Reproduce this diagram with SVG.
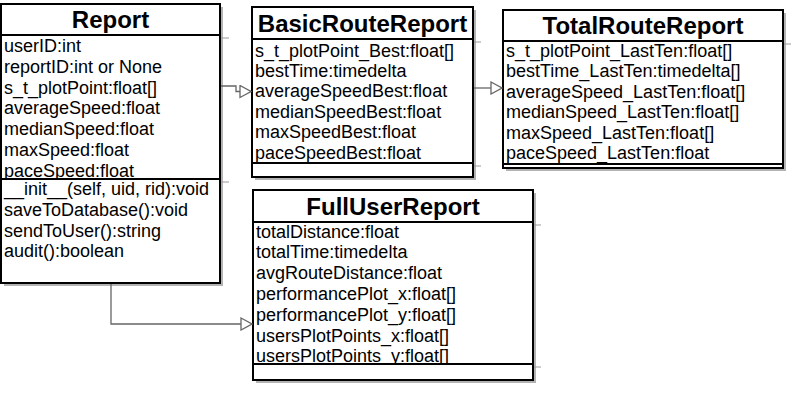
<svg xmlns="http://www.w3.org/2000/svg" width="805" height="400" viewBox="0 0 805 400">
  <style>
    .box { fill: #ffffff; stroke: #000000; stroke-width: 2; }
    .shadow { fill: #b3b3b3; stroke: none; }
    .div { stroke: #000000; stroke-width: 2; }
    .tick { stroke: #999999; stroke-width: 1; }
    .title { font-family: "Liberation Sans", Arial, sans-serif; font-size: 24px; font-weight: bold; fill: #000000; text-anchor: middle; }
    .attr { font-family: "Liberation Sans", Arial, sans-serif; font-size: 18px; fill: #000000; }
    .edge { fill: none; stroke: #666666; stroke-width: 1.3; }
  </style>
  <defs>
    <marker id="tri" viewBox="0 0 13 14" refX="12" refY="7" markerWidth="13" markerHeight="14" markerUnits="userSpaceOnUse" orient="auto">
      <path d="M1,1 L12,7 L1,13 Z" fill="#ffffff" stroke="#666666" stroke-width="1.3"/>
    </marker>
    <clipPath id="cR1"><rect x="1" y="36" width="219" height="142"/></clipPath>
    <clipPath id="cR2"><rect x="1" y="180" width="219" height="102"/></clipPath>
    <clipPath id="cB1"><rect x="252" y="40" width="221" height="122"/></clipPath>
    <clipPath id="cT1"><rect x="503" y="42" width="280" height="121"/></clipPath>
    <clipPath id="cF1"><rect x="253" y="223" width="280" height="140"/></clipPath>
  </defs>

  <g id="Report">
    <rect class="shadow" x="4" y="7" width="219" height="279"/>
    <line class="tick" x1="221" y1="38" x2="229" y2="38"/>
    <line class="tick" x1="221" y1="182" x2="229" y2="182"/>
    <rect class="box" x="1" y="4" width="219" height="279"/>
    <line class="div" x1="1" y1="35" x2="220" y2="35"/>
    <line class="div" x1="1" y1="179" x2="220" y2="179"/>
    <text class="title" x="110.5" y="28">Report</text>
    <g clip-path="url(#cR1)">
      <text class="attr" x="4" y="52">userID:int</text>
      <text class="attr" x="4" y="72.8">reportID:int or None</text>
      <text class="attr" x="4" y="93.6">s_t_plotPoint:float[]</text>
      <text class="attr" x="4" y="114.4">averageSpeed:float</text>
      <text class="attr" x="4" y="135.2">medianSpeed:float</text>
      <text class="attr" x="4" y="156">maxSpeed:float</text>
      <text class="attr" x="4" y="176.8">paceSpeed:float</text>
    </g>
    <g clip-path="url(#cR2)">
      <text class="attr" x="4" y="195">__init__(self, uid, rid):void</text>
      <text class="attr" x="4" y="215.8">saveToDatabase():void</text>
      <text class="attr" x="4" y="236.6">sendToUser():string</text>
      <text class="attr" x="4" y="257.4">audit():boolean</text>
    </g>
  </g>

  <g id="BasicRouteReport">
    <rect class="shadow" x="255" y="10" width="221" height="170"/>
    <line class="tick" x1="474" y1="42" x2="481" y2="42"/>
    <line class="tick" x1="474" y1="166" x2="481" y2="166"/>
    <rect class="box" x="252" y="7" width="221" height="170"/>
    <line class="div" x1="252" y1="39" x2="473" y2="39"/>
    <line class="div" x1="252" y1="163" x2="473" y2="163"/>
    <text class="title" x="362.5" y="31.6">BasicRouteReport</text>
    <g clip-path="url(#cB1)">
      <text class="attr" x="255" y="56.5">s_t_plotPoint_Best:float[]</text>
      <text class="attr" x="255" y="76.9">bestTime:timedelta</text>
      <text class="attr" x="255" y="97.3">averageSpeedBest:float</text>
      <text class="attr" x="255" y="117.7">medianSpeedBest:float</text>
      <text class="attr" x="255" y="138.1">maxSpeedBest:float</text>
      <text class="attr" x="255" y="158.5">paceSpeedBest:float</text>
    </g>
  </g>

  <g id="TotalRouteReport">
    <rect class="shadow" x="506" y="13" width="280" height="158"/>
    <line class="tick" x1="784" y1="44" x2="791" y2="44"/>
    <rect class="box" x="503" y="10" width="280" height="158"/>
    <line class="div" x1="503" y1="41" x2="783" y2="41"/>
    <line class="div" x1="503" y1="164" x2="783" y2="164"/>
    <text class="title" x="643" y="34">TotalRouteReport</text>
    <g clip-path="url(#cT1)">
      <text class="attr" x="506" y="56.7">s_t_plotPoint_LastTen:float[]</text>
      <text class="attr" x="506" y="77.2">bestTime_LastTen:timedelta[]</text>
      <text class="attr" x="506" y="97.7">averageSpeed_LastTen:float[]</text>
      <text class="attr" x="506" y="118.2">medianSpeed_LastTen:float[]</text>
      <text class="attr" x="506" y="138.7">maxSpeed_LastTen:float[]</text>
      <text class="attr" x="506" y="159.2">paceSpeed_LastTen:float</text>
    </g>
  </g>

  <g id="FullUserReport">
    <rect class="shadow" x="256" y="193" width="280" height="190"/>
    <line class="tick" x1="534" y1="225" x2="541" y2="225"/>
    <line class="tick" x1="534" y1="367" x2="541" y2="367"/>
    <rect class="box" x="253" y="190" width="280" height="190"/>
    <line class="div" x1="253" y1="222" x2="533" y2="222"/>
    <line class="div" x1="253" y1="364" x2="533" y2="364"/>
    <text class="title" x="393" y="214.6">FullUserReport</text>
    <g clip-path="url(#cF1)">
      <text class="attr" x="256" y="237.5">totalDistance:float</text>
      <text class="attr" x="256" y="258.3">totalTime:timedelta</text>
      <text class="attr" x="256" y="279.1">avgRouteDistance:float</text>
      <text class="attr" x="256" y="299.9">performancePlot_x:float[]</text>
      <text class="attr" x="256" y="320.7">performancePlot_y:float[]</text>
      <text class="attr" x="256" y="341.5">usersPlotPoints_x:float[]</text>
      <text class="attr" x="256" y="362.3">usersPlotPoints_y:float[]</text>
    </g>
  </g>

  <g id="connectors">
    <path class="edge" d="M221,86 H236 V91.5 H251" marker-end="url(#tri)"/>
    <path class="edge" d="M474,88 H502" marker-end="url(#tri)"/>
    <path class="edge" d="M111,284 V324 H252" marker-end="url(#tri)"/>
  </g>
</svg>
